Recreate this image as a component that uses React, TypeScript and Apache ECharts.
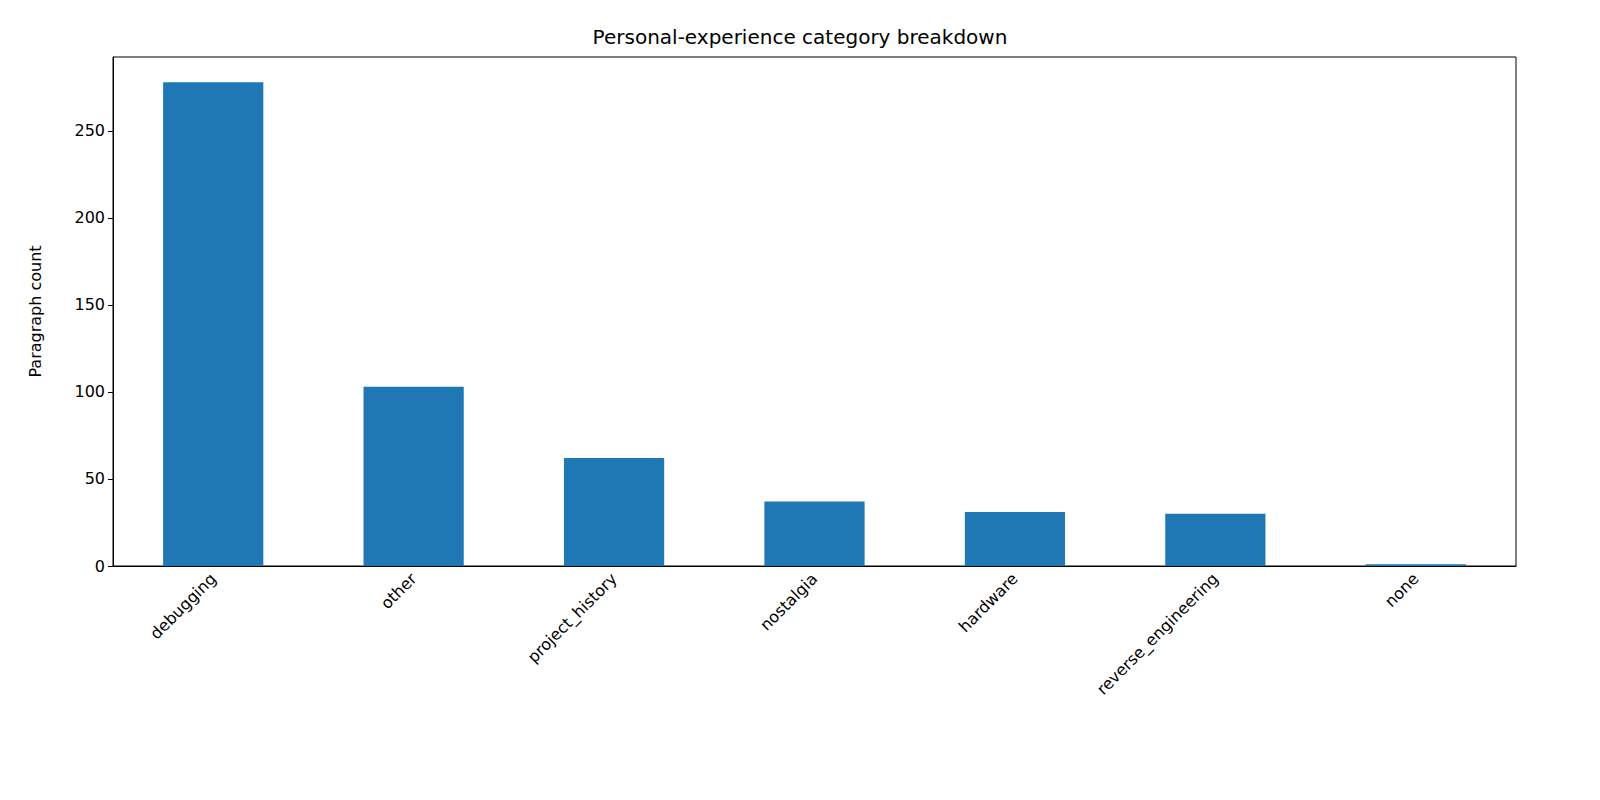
import React, { useEffect, useRef } from "react";
import * as echarts from "echarts";

const categories = ["debugging", "other", "project_history", "nostalgia", "hardware", "reverse_engineering", "none"];
const counts = [278, 103, 62, 37, 31, 30, 1];

export default function App() {
  const ref = useRef<HTMLDivElement>(null);
  useEffect(() => {
    document.body.style.margin = "0";
    const chart = echarts.init(ref.current!, null, { renderer: "svg" });
    const font = "DejaVu Sans";
    chart.setOption({
      animation: false,
      backgroundColor: "#fff",
      title: {
        text: "Personal-experience category breakdown",
        left: "center",
        top: 22,
        textStyle: { fontFamily: font, fontSize: 20, fontWeight: "normal", color: "#000" },
      },
      grid: { left: 113, top: 57, width: 1403, height: 509 },
      xAxis: {
        type: "category",
        data: categories,
        boundaryGap: true,
        axisLine: { lineStyle: { color: "#000" } },
        axisTick: { alignWithLabel: true, length: 5, lineStyle: { color: "#000" } },
        axisLabel: { rotate: 45, interval: 0, fontFamily: font, fontSize: 16, color: "#000", margin: 10 },
        splitLine: { show: false },
      },
      yAxis: {
        type: "value",
        min: 0,
        max: 292.5,
        interval: 50,
        name: "Paragraph count",
        nameLocation: "middle",
        nameGap: 70,
        nameTextStyle: { fontFamily: font, fontSize: 16, color: "#000" },
        axisLine: { show: true, lineStyle: { color: "#000" } },
        axisTick: { show: true, length: 5, lineStyle: { color: "#000" } },
        axisLabel: { fontFamily: font, fontSize: 16, color: "#000", showMaxLabel: false },
        splitLine: { show: false },
      },
      series: [
        {
          type: "bar",
          data: counts,
          barWidth: "50%",
          itemStyle: { color: "#1f77b4" },
        },
      ],
      graphic: [
        {
          type: "rect",
          shape: { x: 113, y: 57, width: 1403, height: 509 },
          style: { fill: "none", stroke: "#000", lineWidth: 1 },
          silent: true,
        },
      ],
    });
    return () => chart.dispose();
  }, []);
  return <div ref={ref} style={{ width: 1600, height: 800 }} />;
}
